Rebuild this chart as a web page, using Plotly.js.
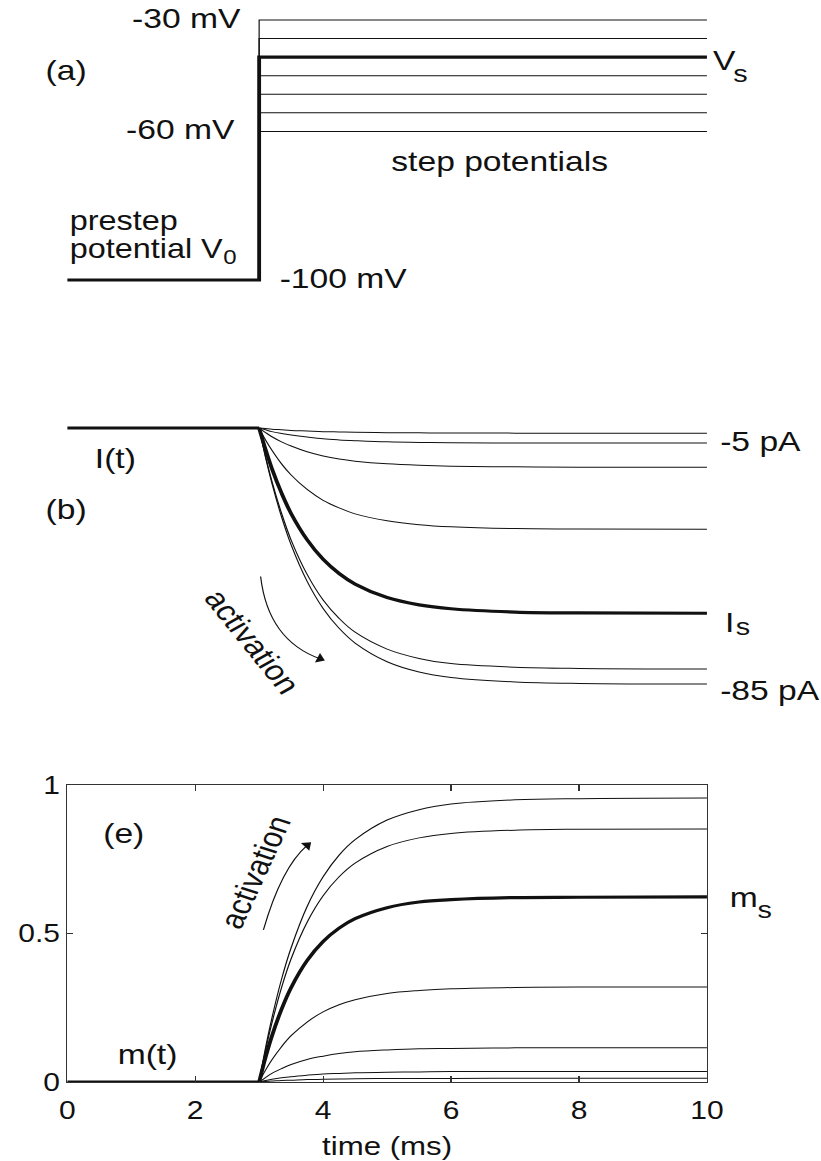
<!DOCTYPE html>
<html>
<head>
<meta charset="utf-8">
<script src="https://cdn.plot.ly/plotly-3.0.1.min.js"></script>
<style>
  html, body { margin: 0; padding: 0; background: #fff; overflow: hidden; }
  /* the figure is laid out narrow and widened to its printed aspect */
  #fig { width: 684px; height: 1161px; transform: scaleX(1.20029); transform-origin: 0 0; }
</style>
</head>
<body>
<div id="fig"></div>
<script>
// ---- voltage clamp protocol (mV) ----
const tStart = 0;
const tStep = 3;
const tEnd = 10;
const prestepV = -100;
const stepV = [-30, -35, -40, -45, -50, -55, -60];
const heldIndex = 2;            // the highlighted step, Vs = -40 mV

// ---- sample times after the step (ms) ----
const riseT = [3, 3.1, 3.2, 3.35, 3.5, 3.75, 4, 4.25, 4.5, 5, 5.5, 6, 7, 8, 10];

// ---- clamp currents I(t) in pA, one row per step potential ----
const currents = [
  [0, -9.8, -18.4, -29.5, -38.8, -50.9, -59.9, -66.5, -71.4, -77.6, -81.0, -82.8, -84.3, -84.8, -85.0],
  [0, -9.4, -17.7, -28.3, -37.2, -48.6, -57.1, -63.2, -67.8, -73.4, -76.5, -78.2, -79.4, -79.8, -80.0],
  [0, -7.1, -13.5, -21.6, -28.4, -37.1, -43.6, -48.3, -51.8, -56.3, -58.7, -60.0, -61.1, -61.4, -61.5],
  [0, -4.0, -7.4, -11.9, -15.6, -20.4, -24.0, -26.5, -28.5, -30.8, -32.1, -32.8, -33.4, -33.5, -33.6],
  [0, -1.5, -2.9, -4.6, -6.0, -7.9, -9.3, -10.3, -11.0, -11.9, -12.4, -12.7, -12.9, -13.0, -13.0],
  [0, -0.6, -1.2, -1.8, -2.3, -3.0, -3.6, -3.95, -4.2, -4.6, -4.8, -4.9, -5.0, -5.0, -5.0],
  [0, -0.2, -0.4, -0.6, -0.8, -1.0, -1.2, -1.3, -1.4, -1.55, -1.6, -1.65, -1.7, -1.7, -1.7]
];

// ---- activation variable m(t), one row per step potential ----
const gating = [
  [0, 0.115, 0.216, 0.346, 0.452, 0.591, 0.691, 0.764, 0.816, 0.882, 0.917, 0.936, 0.950, 0.954, 0.956],
  [0, 0.107, 0.199, 0.318, 0.415, 0.538, 0.627, 0.691, 0.737, 0.793, 0.822, 0.837, 0.848, 0.851, 0.852],
  [0, 0.083, 0.155, 0.245, 0.318, 0.409, 0.473, 0.518, 0.550, 0.587, 0.606, 0.614, 0.621, 0.622, 0.623],
  [0, 0.040, 0.075, 0.119, 0.156, 0.202, 0.236, 0.260, 0.277, 0.298, 0.308, 0.314, 0.318, 0.320, 0.320],
  [0, 0.015, 0.029, 0.045, 0.059, 0.076, 0.087, 0.096, 0.102, 0.108, 0.112, 0.113, 0.115, 0.115, 0.115],
  [0, 0.005, 0.009, 0.014, 0.018, 0.023, 0.027, 0.029, 0.031, 0.033, 0.034, 0.035, 0.035, 0.035, 0.035],
  [0, 0.002, 0.003, 0.005, 0.006, 0.008, 0.009, 0.010, 0.011, 0.012, 0.012, 0.012, 0.0125, 0.0125, 0.0125]
];

// ---- axis ticks of the gating panel ----
const timeTicks = [0, 2, 4, 6, 8, 10];
const timeTickText = ['0', '2', '4', '6', '8', '10'];
const mTicks = [0, 0.5, 1];
const mTickText = ['0', '0.5', '1'];

const INK = '#111';
const THIN = 1;
const THICK = 3.2;
const FONT = 'Liberation Sans, Arial, Helvetica, sans-serif';

const traces = [];

function line(x, y, xa, ya, w, shape) {
  return {
    type: 'scatter', mode: 'lines', x: x, y: y, xaxis: xa, yaxis: ya,
    line: { color: INK, width: w, shape: shape || 'linear', smoothing: 1 },
    hoverinfo: 'skip', showlegend: false
  };
}

// (a) step potentials
stepV.forEach((v, i) => {
  if (i === heldIndex) return;
  traces.push(line([tStep, tStep, tEnd], [prestepV, v, v], 'x', 'y', THIN));
});
traces.push(line([tStart, tStep, tStep, tEnd],
  [prestepV, prestepV, stepV[heldIndex], stepV[heldIndex]], 'x', 'y', THICK));

// (b) currents
currents.forEach((row, i) => {
  if (i === heldIndex) return;
  traces.push(line(riseT, row, 'x2', 'y2', THIN, 'spline'));
});
traces.push(line([tStart, tStep], [0, 0], 'x2', 'y2', THICK));
traces.push(line(riseT, currents[heldIndex], 'x2', 'y2', THICK, 'spline'));

// (e) activation
gating.forEach((row, i) => {
  if (i === heldIndex) return;
  traces.push(line(riseT, row, 'x3', 'y3', THIN, 'spline'));
});
traces.push(line([tStart, tStep], [0, 0], 'x3', 'y3', THICK));
traces.push(line(riseT, gating[heldIndex], 'x3', 'y3', THICK, 'spline'));

// heads of the curved "activation" arrows
function arrowHead(x, y, xa, ya, angle) {
  return {
    type: 'scatter', mode: 'markers', x: [x], y: [y], xaxis: xa, yaxis: ya,
    marker: { symbol: 'triangle-up', size: 9, angle: angle, color: INK, line: { width: 0 } },
    hoverinfo: 'skip', showlegend: false, cliponaxis: false
  };
}
traces.push(arrowHead(3.95, -76.6, 'x2', 'y2', 114));
traces.push(arrowHead(3.75, 0.797, 'x3', 'y3', 48));

const hidden = { visible: false, showgrid: false, zeroline: false, fixedrange: true };

function label(text, x, y, xref, yref, xanchor, size, extra) {
  return Object.assign({
    text: text, x: x, y: y, xref: xref, yref: yref,
    xanchor: xanchor, yanchor: 'middle', showarrow: false,
    font: { family: FONT, size: size || 28, color: INK }
  }, extra || {});
}

const annotations = [
  // (a)
  label('-30 mV', 2.75, -29.7, 'x', 'y', 'right'),
  label('-60 mV', 2.66, -59.6, 'x', 'y', 'right'),
  label('(a)', 0.33, -43.7, 'x', 'y', 'right'),
  label('prestep', 0, -84.0, 'x', 'y', 'left', 27),
  label('potential V', 0, -91.6, 'x', 'y', 'left', 27),
  label('0', 2.41, -93.8, 'x', 'y', 'left', 20),
  label('-100 mV', 3.28, -99.7, 'x', 'y', 'left'),
  label('step potentials', 5.02, -68.2, 'x', 'y', 'left'),
  label('V', 1.005, -41.0, 'paper', 'y', 'left'),
  label('s', 1.038, -44.3, 'paper', 'y', 'left', 24),
  // (b)
  label('I(t)', 0.39, -10.0, 'x2', 'y2', 'left'),
  label('(b)', 0.33, -27.2, 'x2', 'y2', 'right'),
  label('-5 pA', 1.017, -4.4, 'paper', 'y2', 'left'),
  label('I', 1.025, -64.7, 'paper', 'y2', 'left'),
  label('s', 1.042, -65.9, 'paper', 'y2', 'left', 24),
  label('-85 pA', 1.017, -87, 'paper', 'y2', 'left'),
  label('activation', 2.886, -70.9, 'x2', 'y2', 'center', 28, { textangle: 56 }),
  // (e)
  label('(e)', 0.52, 0.838, 'x3', 'y3', 'left'),
  label('m(t)', 0.75, 0.091, 'x3', 'y3', 'left'),
  label('m', 1.031, 0.62, 'paper', 'y3', 'left'),
  label('s', 1.075, 0.582, 'paper', 'y3', 'left', 24),
  label('activation', 2.94, 0.705, 'x3', 'y3', 'center', 28, { textangle: -69 })
];

const shapes = [
  { type: 'path', xref: 'x2', yref: 'y2', path: 'M 3.023,-49.3 Q 3.14,-70.4 3.95,-76.6',
    line: { color: INK, width: 1 } },
  { type: 'path', xref: 'x3', yref: 'y3', path: 'M 3.067,0.512 Q 3.347,0.722 3.75,0.797',
    line: { color: INK, width: 1 } }
];

const axisInk = '#333';

const layout = {
  width: 684,
  height: 1161,
  margin: { l: 56, r: 95, t: 0, b: 79 },
  paper_bgcolor: '#fff',
  plot_bgcolor: 'rgba(0,0,0,0)',
  font: { family: FONT, size: 25, color: INK },
  showlegend: false,
  xaxis: Object.assign({ range: [0, 10], domain: [0, 1], anchor: 'y' }, hidden),
  yaxis: Object.assign({ range: [-105, -25], domain: [0.72405, 0.99868], anchor: 'x' }, hidden),
  xaxis2: Object.assign({ range: [0, 10], domain: [0, 1], anchor: 'y2' }, hidden),
  yaxis2: Object.assign({ range: [-90, 5], domain: [0.35388, 0.61835], anchor: 'x2' }, hidden),
  xaxis3: {
    range: [0, 10], domain: [0, 1], anchor: 'y3',
    showline: true, linecolor: axisInk, linewidth: 1, mirror: 'ticks',
    ticks: 'inside', ticklen: 6, tickcolor: axisInk, tickwidth: 1,
    tickvals: timeTicks, ticktext: timeTickText,
    tickfont: { family: FONT, size: 25, color: INK },
    ticklabelstandoff: 6,
    showgrid: false, zeroline: false, fixedrange: true,
    title: { text: 'time (ms)', font: { family: FONT, size: 26, color: INK }, standoff: 20 }
  },
  yaxis3: {
    range: [0, 1], domain: [0, 0.27449], anchor: 'x3',
    showline: true, linecolor: axisInk, linewidth: 1, mirror: 'ticks',
    ticks: 'inside', ticklen: 5, tickcolor: axisInk, tickwidth: 1,
    tickvals: mTicks, ticktext: mTickText,
    tickfont: { family: FONT, size: 25, color: INK },
    showgrid: false, zeroline: false, fixedrange: true
  },
  annotations: annotations,
  shapes: shapes
};

Plotly.newPlot('fig', traces, layout, { staticPlot: true, displayModeBar: false });
</script>
</body>
</html>
